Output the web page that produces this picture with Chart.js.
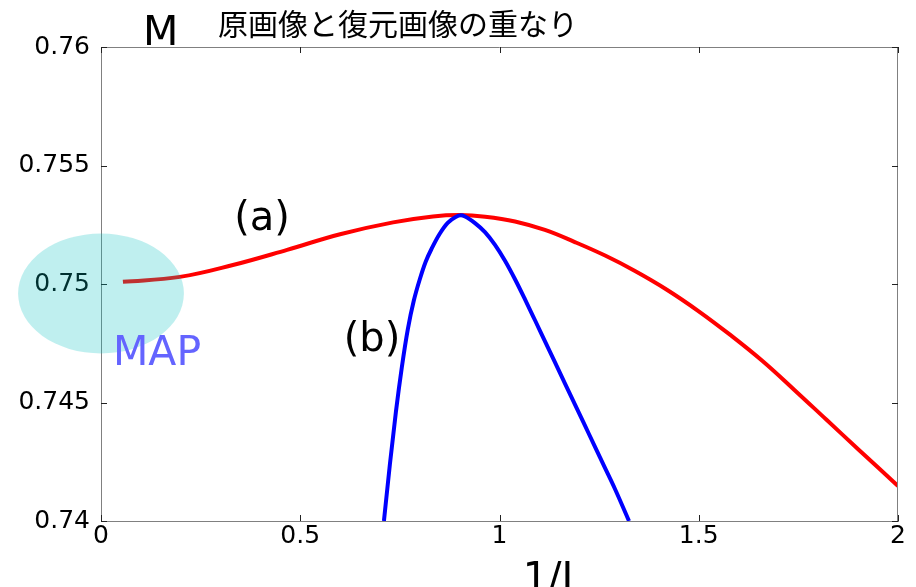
<!DOCTYPE html>
<html>
<head>
<meta charset="utf-8">
<script src="https://cdn.jsdelivr.net/npm/chart.js@4"></script>
<style>
  body { margin: 0; background: #fff; }
  canvas { display: block; }
</style>
</head>
<body>
<canvas id="mChart" width="916" height="587"></canvas>
<script>
// curve (a): red
const redX = [0.055, 0.198, 0.331, 0.467, 0.600, 0.733, 0.833, 0.901, 0.964, 1.039, 1.114, 1.189, 1.265, 1.340, 1.420, 1.500, 1.580, 1.660, 1.740, 1.820, 1.900, 2.0];
const redY = [0.75009, 0.75030, 0.75080, 0.75144, 0.75210, 0.75260, 0.75285, 0.75291, 0.75284, 0.75264, 0.75228, 0.75177, 0.75120, 0.75055, 0.74976, 0.74885, 0.74784, 0.74675, 0.74553, 0.74428, 0.74303, 0.74148];
// curve (b): blue
const blueX = [0.710, 0.725, 0.740, 0.755, 0.770, 0.785, 0.800, 0.815, 0.830, 0.850, 0.870, 0.890, 0.9034, 0.9134, 0.9385, 0.9636, 0.9887, 1.0138, 1.0389, 1.064, 1.0891, 1.1142, 1.1393, 1.1644, 1.1895, 1.2146, 1.2397, 1.2647, 1.2898, 1.325];
const blueY = [0.740, 0.74240, 0.74460, 0.74650, 0.74810, 0.74930, 0.75020, 0.75095, 0.75150, 0.75212, 0.75258, 0.75283, 0.75290, 0.75285, 0.75257, 0.75219, 0.75165, 0.75098, 0.75020, 0.74935, 0.74847, 0.74758, 0.74669, 0.74580, 0.74491, 0.74402, 0.74313, 0.74224, 0.74135, 0.740];

const xTicks = [0, 0.5, 1, 1.5, 2];
const yTicks = [0.74, 0.745, 0.75, 0.755, 0.76];

// annotations, in data units
const mapSpot = { x: 0, y: 0.7496, rx: 0.208, ry: 0.00253 };
const labelA = { text: '(a)', x: 0.404, y: 0.7527 };
const labelB = { text: '(b)', x: 0.680, y: 0.7476 };
const labelMap = { text: 'MAP', x: 0.030, y: 0.74658 };

function toPoints(xs, ys) {
  return xs.map(function (x, i) { return { x: x, y: ys[i] }; });
}

const frame = {
  id: 'frame',
  afterDatasetsDraw: function (chart) {
    const ctx = chart.ctx;
    const a = chart.chartArea;
    const xs = chart.scales.x, ys = chart.scales.y;
    ctx.save();
    ctx.strokeStyle = '#808080';
    ctx.lineWidth = 1;
    ctx.beginPath();
    ctx.moveTo(a.left, a.top + 0.5); ctx.lineTo(a.right, a.top + 0.5);
    ctx.moveTo(a.right - 0.5, a.top); ctx.lineTo(a.right - 0.5, a.bottom);
    ctx.stroke();
    ctx.strokeStyle = '#222';
    ctx.beginPath();
    xTicks.forEach(function (v) {
      const px = Math.round(xs.getPixelForValue(v)) + 0.5;
      ctx.moveTo(px, a.bottom); ctx.lineTo(px, a.bottom - 6);
      ctx.moveTo(px, a.top); ctx.lineTo(px, a.top + 6);
    });
    yTicks.forEach(function (v) {
      const py = Math.round(ys.getPixelForValue(v)) + 0.5;
      ctx.moveTo(a.left, py); ctx.lineTo(a.left + 6, py);
      ctx.moveTo(a.right, py); ctx.lineTo(a.right - 6, py);
    });
    ctx.stroke();
    ctx.restore();
  },
  afterDraw: function (chart) {
    const ctx = chart.ctx;
    const xs = chart.scales.x, ys = chart.scales.y;
    ctx.save();
    // MAP region
    const cx = xs.getPixelForValue(mapSpot.x);
    const cy = ys.getPixelForValue(mapSpot.y);
    const rx = xs.getPixelForValue(mapSpot.x + mapSpot.rx) - cx;
    const ry = cy - ys.getPixelForValue(mapSpot.y + mapSpot.ry);
    ctx.fillStyle = 'rgba(0, 190, 190, 0.25)';
    ctx.beginPath();
    ctx.ellipse(cx, cy, rx, ry, 0, 0, Math.PI * 2);
    ctx.fill();

    ctx.font = '41px "DejaVu Sans"';
    ctx.textBaseline = 'alphabetic';
    ctx.textAlign = 'left';
    ctx.fillStyle = '#6464ff';
    ctx.fillText(labelMap.text, xs.getPixelForValue(labelMap.x), ys.getPixelForValue(labelMap.y));

    ctx.fillStyle = '#000';
    ctx.textAlign = 'center';
    ctx.textBaseline = 'middle';
    ctx.font = '40px "DejaVu Sans"';
    [labelA, labelB].forEach(function (l) {
      ctx.fillText(l.text, xs.getPixelForValue(l.x), ys.getPixelForValue(l.y));
    });

    // titles
    ctx.textBaseline = 'alphabetic';
    ctx.textAlign = 'left';
    ctx.font = '41px "DejaVu Sans"';
    ctx.fillText('M', 143, 45);
    ctx.font = '30px "Noto Sans CJK JP"';
    ctx.textBaseline = 'middle';
    ctx.fillText('原画像と復元画像の重なり', 218, 24);
    ctx.textAlign = 'center';
    ctx.textBaseline = 'alphabetic';
    ctx.font = '40px "DejaVu Sans"';
    ctx.fillText('1/J', 548, 591);
    ctx.restore();
  }
};

document.addEventListener('DOMContentLoaded', function () {
  const ctx = document.getElementById('mChart').getContext('2d');
  new Chart(ctx, {
    type: 'scatter',
    data: {
      datasets: [{
        label: '(a)',
        data: toPoints(redX, redY),
        showLine: true,
        borderColor: '#ff0000',
        borderWidth: 4,
        pointRadius: 0,
        tension: 0.4,
        order: 1
      }, {
        label: '(b)',
        data: toPoints(blueX, blueY),
        showLine: true,
        borderColor: '#0000ff',
        borderWidth: 4,
        pointRadius: 0,
        cubicInterpolationMode: 'monotone',
        order: 0
      }]
    },
    options: {
      responsive: false,
      animation: false,
      layout: { padding: { top: 47, right: 18, left: 0, bottom: 0 } },
      plugins: { legend: { display: false }, tooltip: { enabled: false } },
      scales: {
        x: {
          type: 'linear',
          min: 0, max: 2,
          afterFit: function (s) { s.height = 66; },
          afterBuildTicks: function (s) { s.ticks = xTicks.map(function (v) { return { value: v }; }); },
          grid: { display: false, drawTicks: false },
          border: { display: true, color: '#808080', width: 1 },
          ticks: {
            padding: 0,
            maxRotation: 0,
            autoSkip: false,
            color: '#000',
            font: { family: 'DejaVu Sans', size: 25 },
            callback: function (v) { return String(v); }
          }
        },
        y: {
          type: 'linear',
          min: 0.74, max: 0.76,
          afterFit: function (s) { s.width = 101; },
          afterBuildTicks: function (s) { s.ticks = yTicks.map(function (v) { return { value: v }; }); },
          grid: { display: false, drawTicks: false },
          border: { display: true, color: '#808080', width: 1 },
          ticks: {
            padding: 11,
            color: '#000',
            font: { family: 'DejaVu Sans', size: 25 },
            callback: function (v) { return String(+v.toFixed(3)); }
          }
        }
      }
    },
    plugins: [frame]
  });
});
</script>
</body>
</html>
